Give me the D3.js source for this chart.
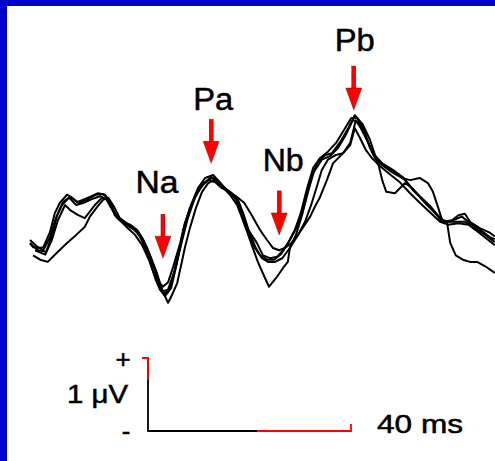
<!doctype html>
<html>
<head>
<meta charset="utf-8">
<script src="https://d3js.org/d3.v7.min.js"></script>
<style>
  body { margin: 0; background: #0000cc; }
  svg { display: block; }
  text { font-family: "Liberation Sans", Arial, sans-serif; fill: #000; stroke: #000; stroke-width: 0.5; }
</style>
</head>
<body>
<svg id="chart" width="495" height="461"></svg>
<script>
// traces: [time (ms), amplitude (uV)]
const trace1 = [[0,-0.04],[0.6,-0.10],[2.0,-0.11],[2.6,-0.10],[3.9,0.10],[4.9,0.37],[5.9,0.51],[7.3,0.62],[8.3,0.58],[9.3,0.52],[10.4,0.55],[11.8,0.59],[13.4,0.64],[14.8,0.62],[15.8,0.51],[16.7,0.34],[18.1,0.25],[19.7,0.21],[21.1,0.14],[22.1,0.03],[23.1,-0.11],[24.0,-0.27],[25.0,-0.45],[25.6,-0.59],[26.2,-0.64],[27.2,-0.58],[28.2,-0.37],[29.6,-0.04],[30.5,0.23],[31.9,0.51],[33.1,0.71],[34.5,0.85],[36.1,0.89],[37.4,0.79],[38.8,0.68],[40.0,0.62],[41.0,0.52],[41.8,0.37],[43.0,0.14],[44.7,-0.04],[45.9,-0.21],[47.3,-0.25],[48.7,-0.23],[49.9,-0.14],[51.2,0.00],[52.6,0.18],[53.8,0.45],[55.2,0.82],[56.6,1.05],[58.1,1.16],[59.5,1.19],[61.1,1.34],[62.7,1.53],[64.0,1.71],[65.6,1.58],[67.0,1.37],[68.0,1.16],[69.4,1.05],[71.5,0.96],[73.5,0.86],[75.5,0.68],[77.4,0.55],[79.4,0.41],[81.2,0.25],[83.3,0.27],[85.1,0.32],[86.7,0.23],[88.7,0.14],[90.6,0.04],[91.6,0.01]];
const trace2 = [[1.0,-0.14],[3.0,-0.20],[4.3,0.00],[5.5,0.27],[6.9,0.48],[7.9,0.41],[9.5,0.34],[10.8,0.30],[12.8,0.48],[14.2,0.58],[15.4,0.55],[16.4,0.41],[17.7,0.27],[19.3,0.16],[20.7,0.07],[22.1,-0.07],[23.6,-0.30],[24.8,-0.52],[25.6,-0.66],[26.6,-0.73],[27.6,-0.66],[28.8,-0.34],[30.0,0.00],[31.1,0.30],[32.5,0.58],[33.9,0.75],[35.1,0.82],[36.5,0.79],[37.8,0.71],[39.4,0.66],[40.6,0.55],[41.6,0.38],[42.6,0.16],[44.0,-0.07],[45.3,-0.21],[46.7,-0.27],[48.1,-0.27],[49.5,-0.19],[50.8,-0.05],[52.2,0.14],[53.4,0.38],[54.6,0.71],[55.8,0.99],[57.1,1.12],[58.7,1.21],[60.3,1.33],[61.9,1.51],[63.3,1.67],[64.5,1.67],[65.8,1.51],[67.0,1.26],[68.2,1.10],[69.9,1.00],[71.9,0.93],[73.9,0.82],[75.9,0.66],[77.8,0.51],[79.8,0.37],[81.8,0.25],[83.7,0.25],[85.7,0.25],[87.7,0.16],[89.7,0.07],[91.6,-0.03]];
const trace3 = [[0.6,-0.21],[2.0,-0.27],[3.5,-0.30],[5.5,-0.16],[7.3,-0.04],[9.1,0.07],[10.8,0.18],[11.8,0.32],[13.2,0.45],[14.4,0.55],[15.4,0.58],[16.6,0.45],[17.7,0.30],[19.3,0.22],[20.9,0.14],[22.3,0.00],[23.6,-0.21],[25.0,-0.48],[26.0,-0.68],[27.2,-0.86],[28.0,-0.75],[29.0,-0.59],[29.8,-0.34],[30.5,-0.11],[31.5,0.16],[32.7,0.44],[33.9,0.66],[35.1,0.78],[36.3,0.82],[37.8,0.74],[39.4,0.62],[40.8,0.48],[41.8,0.30],[42.8,0.11],[43.7,-0.07],[44.9,-0.30],[46.1,-0.49],[47.1,-0.64],[48.5,-0.52],[49.9,-0.38],[50.8,-0.30],[51.2,-0.11],[52.4,0.07],[53.6,0.34],[54.8,0.66],[55.9,0.93],[57.5,1.10],[59.1,1.15],[60.7,1.26],[62.3,1.45],[63.6,1.64],[64.6,1.62],[66.0,1.44],[67.4,1.21],[68.6,1.05],[69.4,0.82],[70.2,0.66],[71.9,0.64],[73.9,0.78],[75.3,0.71],[76.8,0.60],[78.8,0.47],[80.8,0.30],[82.2,0.23],[82.8,-0.04],[83.9,-0.21],[85.3,-0.27],[86.7,-0.30],[88.1,-0.30],[89.7,-0.36],[91.6,-0.45]];
const trace4 = [[0,0.00],[1.2,-0.08],[2.6,-0.14],[3.9,0.03],[5.1,0.30],[6.3,0.48],[7.7,0.58],[9.1,0.48],[10.6,0.51],[12.2,0.56],[13.8,0.60],[15.0,0.56],[16.0,0.44],[17.2,0.30],[18.7,0.22],[20.3,0.16],[21.7,0.05],[22.9,-0.14],[23.8,-0.34],[24.8,-0.55],[25.6,-0.68],[26.6,-0.77],[27.8,-0.66],[29.0,-0.30],[30.1,0.07],[31.5,0.41],[32.9,0.66],[34.5,0.79],[35.9,0.85],[37.4,0.75],[39.0,0.66],[40.6,0.60],[42.2,0.51],[43.7,0.34],[45.3,0.14],[46.7,0.00],[47.9,-0.11],[49.1,-0.14],[50.2,-0.11],[51.4,-0.05],[52.8,0.07],[54.2,0.25],[55.4,0.48],[56.6,0.75],[57.5,0.96],[58.7,1.10],[60.1,1.16],[61.7,1.19],[63.1,1.33],[64.2,1.64],[65.2,1.53],[66.6,1.34],[67.8,1.15],[69.4,1.03],[71.3,0.93],[73.3,0.85],[74.9,0.82],[76.8,0.85],[78.4,0.78],[79.4,0.66],[80.4,0.45],[81.2,0.27],[82.8,0.25],[84.4,0.34],[85.7,0.36],[86.7,0.25],[88.7,0.16],[90.6,0.10],[91.6,0.05]];
const trace5 = [[0,-0.05],[1.6,-0.14],[3.2,-0.16],[4.3,0.05],[5.3,0.33],[6.5,0.52],[7.9,0.59],[9.5,0.51],[11.2,0.55],[13.0,0.62],[14.4,0.63],[15.6,0.55],[16.6,0.38],[17.9,0.27],[19.5,0.19],[21.1,0.11],[22.3,-0.03],[23.4,-0.21],[24.6,-0.41],[25.4,-0.58],[26.2,-0.70],[27.2,-0.68],[28.4,-0.44],[29.4,-0.14],[30.3,0.16],[31.5,0.44],[32.9,0.64],[34.3,0.78],[35.7,0.86],[37.0,0.82],[38.4,0.71],[39.8,0.64],[41.0,0.55],[42.0,0.37],[43.2,0.11],[44.5,-0.11],[45.7,-0.25],[46.9,-0.30],[48.3,-0.30],[49.7,-0.25],[51.2,-0.11],[53.2,0.11],[55.2,0.32],[56.3,0.48],[57.1,0.58],[58.5,0.82],[59.7,1.05],[61.7,1.19],[63.1,1.30],[64.0,1.53],[65.0,1.40],[66.2,1.23],[67.4,1.12],[69.0,1.01],[70.9,0.90],[72.9,0.79],[74.9,0.64],[76.8,0.51],[78.8,0.38],[80.8,0.25],[82.4,0.21],[84.4,0.23],[86.4,0.21],[88.3,0.11],[90.3,0.00],[91.6,-0.07]];
const traces = [trace1, trace2, trace3, trace4, trace5];

// peak markers
const peakNames = ["Na", "Pa", "Nb", "Pb"];
const peakTimes = [26.2, 35.7, 49.1, 63.8];
const peakTips = [-0.25, 1.05, 0.07, 1.78];

// calibration
const barTime = 40;   // ms
const barVolt = 1;    // uV

const svg = d3.select('#chart');
const width = +svg.attr('width');
const height = +svg.attr('height');

// white page with blue frame on left/top
svg.append('rect').attr('x', 7).attr('y', 6)
  .attr('width', width - 7).attr('height', height - 6).attr('fill', '#fff');

const x = d3.scaleLinear().domain([0, 40]).range([30, 233]);
const y = d3.scaleLinear().domain([0, 1]).range([240, 167]);

const line = d3.line().x(d => x(d[0])).y(d => y(d[1]));

svg.append('g').selectAll('path')
  .data(traces)
  .join('path')
  .attr('d', line)
  .attr('fill', 'none')
  .attr('stroke', '#000')
  .attr('stroke-width', 2)
  .attr('stroke-linejoin', 'round');

// arrows + labels
const arrowLen = 44, headLen = 22, headW = 16, shaftW = 4;
const labelOff = [[-6, -21], [2, -9], [4, -20], [1, -15]];
const labelLen = [43, 40, 41, 40];

const peaks = svg.append('g');
peakNames.forEach((name, i) => {
  const px = x(peakTimes[i]);
  const tip = y(peakTips[i]);
  const top = tip - arrowLen;
  const g = peaks.append('g');
  g.append('rect')
    .attr('x', px - shaftW / 2).attr('y', top)
    .attr('width', shaftW).attr('height', arrowLen - headLen + 1)
    .attr('fill', '#ff0000').attr('stroke', '#600').attr('stroke-width', 0.4);
  g.append('path')
    .attr('d', `M${px - headW / 2},${tip - headLen} L${px + headW / 2},${tip - headLen} L${px},${tip} Z`)
    .attr('fill', '#ff0000').attr('stroke', '#600').attr('stroke-width', 0.4);
  g.append('text')
    .attr('x', px + labelOff[i][0] - labelLen[i] / 2).attr('y', top + labelOff[i][1])
    .attr('font-size', 31)
    .attr('textLength', labelLen[i])
    .attr('lengthAdjust', 'spacingAndGlyphs')
    .text(name);
});

// calibration bar
const bx = 148, by = 431;
const bw = x(barTime) - x(0);
const bh = y(0) - y(barVolt);
const cal = svg.append('g').attr('fill', 'none').attr('stroke-width', 1.8);
cal.append('path').attr('d', `M${bx},${by - bh} V${by} H${bx + bw}`).attr('stroke', '#000');
cal.append('path').attr('d', `M${bx - 6},${by - bh} H${bx} V${by - bh + 22}`).attr('stroke', '#ff0000');
cal.append('path').attr('d', `M${bx + 109},${by} H${bx + bw} V${by - 7}`).attr('stroke', '#ff0000');

svg.append('text').attr('x', 123).attr('y', by - bh + 10)
  .attr('text-anchor', 'middle').attr('font-size', 26).text('+');
svg.append('text').attr('x', 126).attr('y', by + 9)
  .attr('text-anchor', 'middle').attr('font-size', 26).text('-');
svg.append('text').attr('x', 67).attr('y', 403)
  .attr('font-size', 25).attr('textLength', 61).attr('lengthAdjust', 'spacingAndGlyphs').text('1 μV');
svg.append('text').attr('x', 377).attr('y', 433)
  .attr('font-size', 25).attr('textLength', 86).attr('lengthAdjust', 'spacingAndGlyphs').text(barTime + ' ms');
</script>
</body>
</html>
